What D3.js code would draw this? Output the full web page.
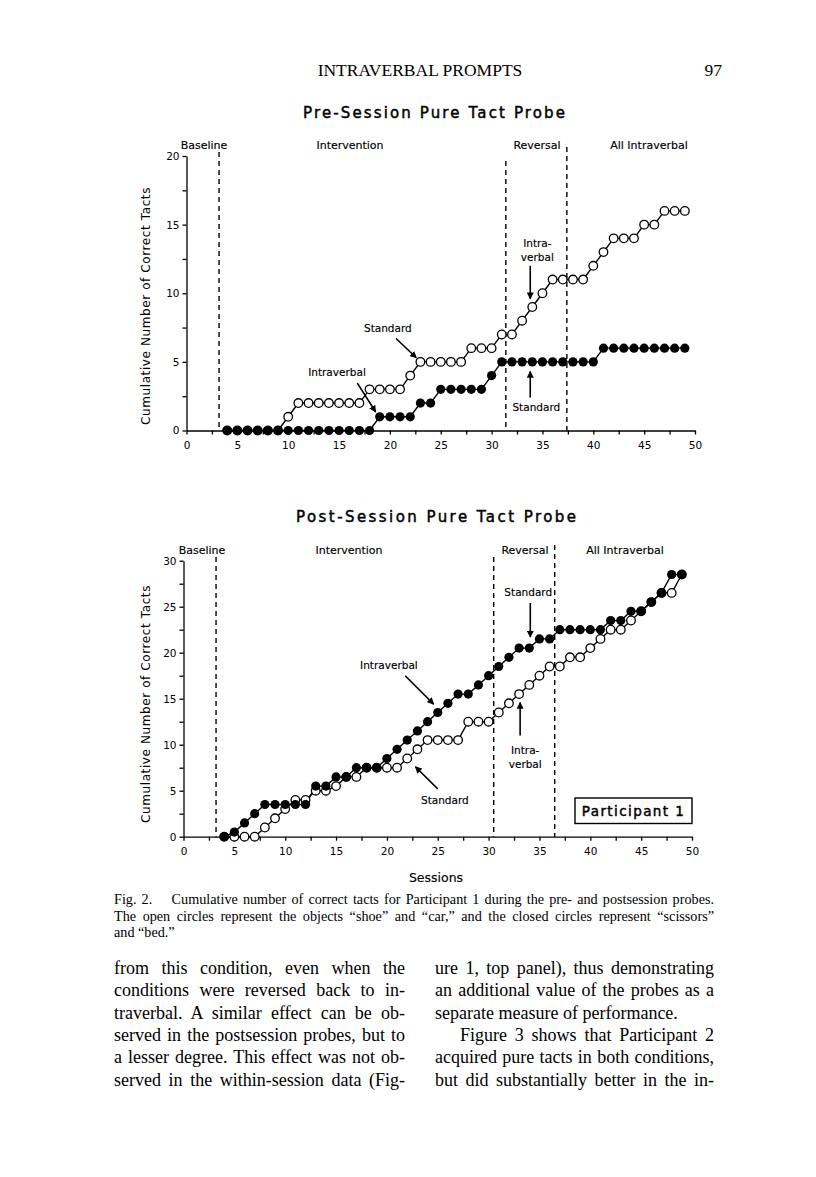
<!DOCTYPE html>
<html>
<head>
<meta charset="utf-8">
<script src="https://cdn.jsdelivr.net/npm/d3@7"></script>
<style>
  body { margin: 0; background: #fff; }
  svg { display: block; }
</style>
</head>
<body>
<svg id="page" width="816" height="1177"></svg>
<script>
// ---------------- DATA ----------------
const sessions = [4,5,6,7,8,9,10,11,12,13,14,15,16,17,18,19,20,21,22,23,24,25,26,27,28,29,30,31,32,33,34,35,36,37,38,39,40,41,42,43,44,45,46,47,48,49];

// Pre-session probe (top panel)
const preOpen   = [0,0,0,0,0,0,1,2,2,2,2,2,2,2,3,3,3,3,4,5,5,5,5,5,6,6,6,7,7,8,9,10,11,11,11,11,12,13,14,14,14,15,15,16,16,16];
const preClosed = [0,0,0,0,0,0,0,0,0,0,0,0,0,0,0,1,1,1,1,2,2,3,3,3,3,3,4,5,5,5,5,5,5,5,5,5,5,6,6,6,6,6,6,6,6,6];

// Post-session probe (bottom panel)
const postOpen   = [0,0,0,0,1,2,3,4,4,5,5,5.5,6.5,6.5,7.5,7.5,7.5,7.5,8.5,9.5,10.5,10.5,10.5,10.5,12.5,12.5,12.5,13.5,14.5,15.5,16.5,17.5,18.5,18.5,19.5,19.5,20.5,21.5,22.5,22.5,23.5,24.5,25.5,26.5,26.5,28.5];
const postClosed = [0,0.5,1.5,2.5,3.5,3.5,3.5,3.5,3.5,5.5,5.5,6.5,6.5,7.5,7.5,7.5,8.5,9.5,10.5,11.5,12.5,13.5,14.5,15.5,15.5,16.5,17.5,18.5,19.5,20.5,20.5,21.5,21.5,22.5,22.5,22.5,22.5,22.5,23.5,23.5,24.5,24.5,25.5,26.5,28.5,28.5];

const xTicks = [0,2.5,5,7.5,10,12.5,15,17.5,20,22.5,25,27.5,30,32.5,35,37.5,40,42.5,45,47.5,50];
const preYTicks = [0,2.5,5,7.5,10,12.5,15,17.5,20];
const postYTicks = [0,2.5,5,7.5,10,12.5,15,17.5,20,22.5,25,27.5,30];

const phaseNames = ["Baseline","Intervention","Reversal","All Intraverbal"];
const prePhaseLines = [3.2, 31.4, 37.4];
const postPhaseLines = [3.2, 30.5, 36.5];

const preTitle = "Pre-Session Pure Tact Probe";
const postTitle = "Post-Session Pure Tact Probe";
const yLabel = "Cumulative Number of Correct Tacts";
const xLabel = "Sessions";

// ---------------- DRAWING ----------------
const svg = d3.select("#page");
svg.append("rect").attr("width",816).attr("height",1177).attr("fill","#fff");

const sans = "'DejaVu Sans', sans-serif";
const serif = "'Liberation Serif', 'Times New Roman', serif";

svg.append("defs").append("marker")
  .attr("id","ah").attr("viewBox","0 0 10 10").attr("refX",9).attr("refY",5)
  .attr("markerWidth",7).attr("markerHeight",7).attr("markerUnits","userSpaceOnUse")
  .attr("orient","auto")
  .append("path").attr("d","M0,0 L10,5 L0,10 z").attr("fill","#000");

// justify helper: stretch word spacing so the line fills the width
function justify(t, width) {
  const words = t.text().split(" ").length - 1;
  if (words < 1) return;
  const w = t.node().getComputedTextLength();
  t.attr("word-spacing", (width - w) / words);
}

// running header
svg.append("text").attr("x",420).attr("y",76).attr("text-anchor","middle")
  .attr("font-family",serif).attr("font-size",17.5).text("INTRAVERBAL PROMPTS");
svg.append("text").attr("x",722).attr("y",76).attr("text-anchor","end")
  .attr("font-family",serif).attr("font-size",17.5).text("97");

function panel(cfg) {
  const x = d3.scaleLinear().domain([0,50]).range(cfg.xr);
  const y = d3.scaleLinear().domain([0,cfg.ymax]).range(cfg.yr);
  const g = svg.append("g");

  // title
  g.append("text").attr("x",cfg.titleX).attr("y",cfg.titleY).attr("text-anchor","middle")
    .attr("font-family",sans).attr("font-size",15).attr("font-weight","normal")
    .attr("stroke","#000").attr("stroke-width",0.45)
    .attr("textLength",cfg.titleW).attr("lengthAdjust","spacing").text(cfg.title);

  // axes
  const xa = g.append("g").attr("transform",`translate(0,${cfg.yr[0]})`)
    .call(d3.axisBottom(x).tickValues(xTicks).tickSize(4).tickSizeOuter(0)
      .tickFormat(d => d % 5 === 0 ? d : ""));
  const ya = g.append("g").attr("transform",`translate(${cfg.xr[0]},0)`)
    .call(d3.axisLeft(y).tickValues(cfg.yTicks).tickSize(4).tickSizeOuter(0)
      .tickFormat(d => d % 5 === 0 ? d : ""));
  [xa,ya].forEach(a => {
    a.selectAll("path,line").attr("stroke","#000").attr("stroke-width",1.3);
    a.selectAll("text").attr("font-family",sans).attr("font-size",10.5).attr("fill","#000");
  });
  xa.selectAll("text").attr("dy","1.05em");

  // y label
  g.append("text").attr("transform",`translate(${cfg.yLabX},${cfg.yLabY}) rotate(-90)`)
    .attr("text-anchor","middle").attr("font-family",sans).attr("font-size",12)
    .attr("letter-spacing",0.6).text(yLabel);

  // phase lines
  cfg.phaseLines.forEach((p,i) => {
    g.append("line").attr("x1",x(p)).attr("x2",x(p))
      .attr("y1",cfg.phaseTop[i]).attr("y2",cfg.yr[0])
      .attr("stroke","#000").attr("stroke-width",1.4).attr("stroke-dasharray","5,4");
  });
  phaseNames.forEach((n,i) => {
    g.append("text").attr("x",cfg.phaseLabX[i]).attr("y",cfg.phaseLabY)
      .attr("text-anchor","middle").attr("font-family",sans).attr("font-size",11)
      .attr("stroke","#000").attr("stroke-width",0.15).text(n);
  });

  // series
  const line = d3.line().x((d,i) => x(sessions[i])).y(d => y(d));
  [cfg.open, cfg.closed].forEach(s => {
    g.append("path").datum(s).attr("d",line).attr("fill","none")
      .attr("stroke","#000").attr("stroke-width",1.4);
  });
  g.selectAll(null).data(cfg.open).join("circle")
    .attr("cx",(d,i) => x(sessions[i])).attr("cy",d => y(d)).attr("r",4.3)
    .attr("fill","#fff").attr("stroke","#000").attr("stroke-width",1.3);
  g.selectAll(null).data(cfg.closed).join("circle")
    .attr("cx",(d,i) => x(sessions[i])).attr("cy",d => y(d)).attr("r",4.6)
    .attr("fill","#000");

  // annotations
  cfg.notes.forEach(nt => {
    nt.text.forEach((t,j) => {
      g.append("text").attr("x",x(nt.tx)).attr("y",y(nt.ty) + j*14)
        .attr("text-anchor","middle").attr("font-family",sans).attr("font-size",10.5)
        .attr("stroke","#000").attr("stroke-width",0.15).text(t);
    });
    g.append("line").attr("x1",x(nt.a[0])).attr("y1",y(nt.a[1]))
      .attr("x2",x(nt.a[2])).attr("y2",y(nt.a[3]))
      .attr("stroke","#000").attr("stroke-width",1.6).attr("marker-end","url(#ah)");
  });
  return {x,y,g};
}

panel({
  xr:[186.5,695], yr:[430.5,156], ymax:20, yTicks:preYTicks,
  title:preTitle, titleX:434, titleY:118, titleW:262,
  yLabX:150, yLabY:306,
  phaseLines:prePhaseLines, phaseTop:[152,161,147],
  phaseLabX:[204,350,537,649], phaseLabY:149,
  open:preOpen, closed:preClosed,
  notes:[
    {text:["Standard"], tx:19.8, ty:7.2, a:[20.6,6.7,22.6,5.3]},
    {text:["Intraverbal"], tx:14.8, ty:3.95, a:[16.8,3.45,18.6,1.35]},
    {text:["Intra-","verbal"], tx:34.5, ty:13.4, a:[33.8,12.0,33.8,9.6]},
    {text:["Standard"], tx:34.4, ty:1.45, a:[33.8,2.4,33.8,4.3]}
  ]
});

const bottom = panel({
  xr:[183.5,692], yr:[836.7,560.7], ymax:30, yTicks:postYTicks,
  title:postTitle, titleX:436, titleY:522, titleW:280,
  yLabX:150, yLabY:704,
  phaseLines:postPhaseLines, phaseTop:[557,557,545],
  phaseLabX:[202,349,525,625], phaseLabY:554,
  open:postOpen, closed:postClosed,
  notes:[
    {text:["Intraverbal"], tx:20.2, ty:18.2, a:[21.8,17.5,24.6,14.4]},
    {text:["Standard"], tx:25.7, ty:3.6, a:[25.0,5.2,22.8,7.6]},
    {text:["Standard"], tx:33.9, ty:26.2, a:[34.1,25.4,34.1,21.7]},
    {text:["Intra-","verbal"], tx:33.6, ty:9.0, a:[33.1,11.0,33.1,14.6]}
  ]
});

// Participant box
bottom.g.append("rect").attr("x",575).attr("y",798).attr("width",117).attr("height",25.5)
  .attr("fill","#fff").attr("stroke","#000").attr("stroke-width",1.4);
bottom.g.append("text").attr("x",633.5).attr("y",816).attr("text-anchor","middle")
  .attr("font-family",sans).attr("font-size",13.5)
  .attr("stroke","#000").attr("stroke-width",0.45)
  .attr("letter-spacing",1.4).text("Participant 1");

// x label
svg.append("text").attr("x",436).attr("y",882).attr("text-anchor","middle")
  .attr("font-family",sans).attr("font-size",12.5)
  .attr("stroke","#000").attr("stroke-width",0.15).text(xLabel);

// caption
const caption = [
  {t:"Fig. 2.\u2003 Cumulative number of correct tacts for Participant 1 during the pre- and postsession probes.", just:true},
  {t:"The open circles represent the objects \u201Cshoe\u201D and \u201Ccar,\u201D and the closed circles represent \u201Cscissors\u201D", just:true},
  {t:"and \u201Cbed.\u201D", just:false}
];
caption.forEach((c,i) => {
  const t = svg.append("text").attr("x",114).attr("y",904 + i*16.5)
    .attr("font-family",serif).attr("font-size",14.2).text(c.t);
  if (c.just) justify(t, 600);
});

// body text
const leftCol = [
  "from this condition, even when the",
  "conditions were reversed back to in-",
  "traverbal. A similar effect can be ob-",
  "served in the postsession probes, but to",
  "a lesser degree. This effect was not ob-",
  "served in the within-session data (Fig-"
];
const rightCol = [
  {t:"ure 1, top panel), thus demonstrating", x:435, just:true},
  {t:"an additional value of the probes as a", x:435, just:true},
  {t:"separate measure of performance.", x:435, just:false},
  {t:"Figure 3 shows that Participant 2", x:460, just:true},
  {t:"acquired pure tacts in both conditions,", x:435, just:true},
  {t:"but did substantially better in the in-", x:435, just:true}
];
leftCol.forEach((l,i) => {
  const t = svg.append("text").attr("x",114).attr("y",974 + i*22.3)
    .attr("font-family",serif).attr("font-size",18).text(l);
  justify(t, 291);
});
rightCol.forEach((l,i) => {
  const t = svg.append("text").attr("x",l.x).attr("y",974 + i*22.3)
    .attr("font-family",serif).attr("font-size",18).text(l.t);
  if (l.just) justify(t, 714 - l.x);
});
</script>
</body>
</html>
